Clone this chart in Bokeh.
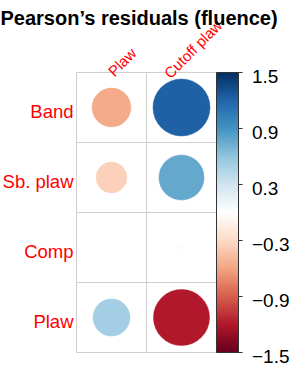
import numpy as np
from bokeh.plotting import figure
from bokeh.models import LinearColorMapper, ColumnDataSource
from bokeh.core.properties import value
from bokeh.embed import file_html
from bokeh.resources import INLINE

# ---------------- data ----------------
title_text = "Pearson’s residuals (fluence)"
row_names = ["Band", "Sb. plaw", "Comp", "Plaw"]
col_names = ["Plaw", "Cutoff plaw"]
resid_plaw = [-0.57, -0.36, 0.014, 0.52]
resid_cutoff = [1.23, 0.77, -0.024, -1.19]
col_lim = [-1.5, 1.5]
tick_values = [-1.5, -0.9, -0.3, 0.3, 0.9, 1.5]
tick_labels = ["−1.5", "−0.9", "−0.3", "0.3", "0.9", "1.5"]

# ---------------- style / layout ----------------
stops = ["#67001F", "#B2182B", "#D6604D", "#F4A582", "#FDDBC7", "#FFFFFF",
         "#D1E5F0", "#92C5DE", "#4393C3", "#2166AC", "#053061"]


def ramp(cols, n):
    rgb = np.array([[int(c[i:i + 2], 16) for i in (1, 3, 5)] for c in cols], float)
    pos = np.linspace(0, 1, len(cols))
    t = np.linspace(0, 1, n)
    out = []
    for tt in t:
        r, g, b = (np.interp(tt, pos, rgb[:, k]) for k in range(3))
        out.append("#%02x%02x%02x" % (int(round(r)), int(round(g)), int(round(b))))
    return out


palette = ramp(stops, 200)
mapper = LinearColorMapper(palette=palette, low=col_lim[0], high=col_lim[1])

W, H = 296, 374
CELL = 70.0            # px per cell
GX0 = 76.0             # grid left edge, px from figure left
GY0 = 22.0             # grid bottom edge, px from figure bottom
PX = 1.0 / CELL        # one pixel in data units
FONT = "Liberation Sans"

p = figure(width=W, height=H, output_backend="svg", toolbar_location=None,
           x_range=(-GX0 / CELL, (W - GX0) / CELL),
           y_range=(-GY0 / CELL, (H - GY0) / CELL),
           x_axis_location=None, y_axis_location=None,
           min_border=0, outline_line_color=None,
           background_fill_color="white", border_fill_color="white")
p.xgrid.visible = False
p.ygrid.visible = False

nr, nc = len(row_names), len(col_names)
xs, ys, vals = [], [], []
for j, series in enumerate([resid_plaw, resid_cutoff]):
    for i, v in enumerate(series):
        xs.append(j + 0.5)
        ys.append(nr - 1 - i + 0.5)
        vals.append(v)
lim = max(abs(col_lim[0]), abs(col_lim[1]))
radii = [0.9 * np.sqrt(abs(v) / lim) / 2 for v in vals]
src = ColumnDataSource(dict(x=xs, y=ys, v=vals, r=radii))

# cells
p.rect(x="x", y="y", width=1, height=1, source=src, fill_color="white",
       line_color="#cfcfcf", line_width=1)
# circles
p.circle(x="x", y="y", radius="r", source=src,
         fill_color={"field": "v", "transform": mapper},
         line_color={"field": "v", "transform": mapper}, line_width=0.5)

# color bar
cb_x0 = nc
cb_w = 22 * PX
grad = np.linspace(col_lim[0], col_lim[1], 200).reshape(200, 1)
p.image(image=[grad], x=cb_x0, y=0, dw=cb_w, dh=nr, color_mapper=mapper)
p.rect(x=cb_x0 + cb_w / 2, y=nr / 2, width=cb_w, height=nr,
       fill_color=None, line_color="#333333", line_width=1)

ty = [(t - col_lim[0]) / (col_lim[1] - col_lim[0]) * nr for t in tick_values]
p.segment(x0=[cb_x0 + cb_w] * len(ty), y0=ty, x1=[cb_x0 + cb_w + 4 * PX] * len(ty), y1=ty,
          line_color="#333333", line_width=1)
p.text(x=[cb_x0 + cb_w + 13.5 * PX] * len(ty), y=[t - 4 * PX for t in ty], text=tick_labels,
       text_font=value(FONT), text_font_size="19px", text_color="black",
       text_align="left", text_baseline="alphabetic")

# row labels
p.text(x=[-3 * PX] * nr, y=[nr - 1 - i + 0.5 - 4 * PX for i in range(nr)], text=row_names,
       text_font=value(FONT), text_font_size="18.5px", text_color="red",
       text_align="right", text_baseline="alphabetic")

# column labels (rotated 45 degrees)
col_dx = [-1 * PX, -15 * PX]
col_dy = [-1 * PX, -3 * PX]
p.text(x=[j + 0.5 + col_dx[j] for j in range(nc)], y=[nr + col_dy[j] for j in range(nc)],
       text=col_names, angle=np.pi / 4,
       text_font=value(FONT), text_font_size="15px", text_color="red",
       text_align="left", text_baseline="alphabetic")

# title
p.text(x=[-GX0 / CELL], y=[(H - GY0 - 17) / CELL], text=[title_text],
       text_font=value(FONT), text_font_size="20px", text_font_style="bold",
       text_color="black", text_align="left", text_baseline="alphabetic")

open("out.html", "w").write(file_html(p, INLINE))
